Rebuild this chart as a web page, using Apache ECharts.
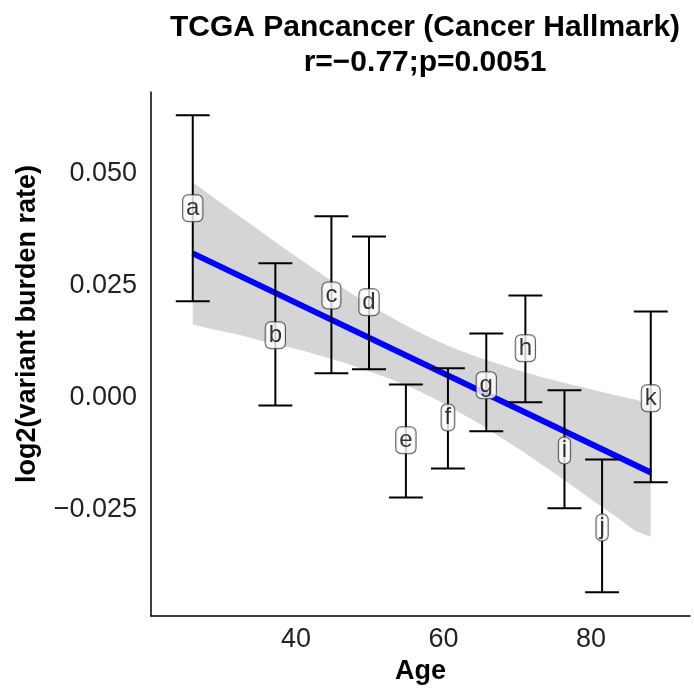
<!doctype html>
<html>
<head>
    <meta charset="utf-8">
    <title>TCGA Pancancer</title>
    <script src="https://cdn.jsdelivr.net/npm/echarts@6/dist/echarts.min.js"></script>
    <style>
        html, body { margin: 0; padding: 0; background: #fff; }
        #container { width: 694px; height: 691px; }
    </style>
</head>
<body>
    <div id="container"></div>
    <script type="text/javascript">
        // age groups (label, mean age, value, error bar)
        var labels = ['a', 'b', 'c', 'd', 'e', 'f', 'g', 'h', 'i', 'j', 'k'];
        var ages = [26.0, 37.2, 44.8, 49.9, 54.9, 60.6, 65.8, 71.1, 76.4, 81.5, 88.1];
        var rate = [0.0423, 0.0139, 0.0228, 0.0213, -0.0096, -0.0045, 0.0027, 0.0110, -0.0119, -0.0291, -0.0002];
        var upper = [0.0631, 0.0300, 0.0405, 0.0360, 0.0029, 0.0065, 0.0143, 0.0228, 0.0016, -0.0139, 0.0192];
        var lower = [0.0215, -0.0018, 0.0054, 0.0063, -0.0224, -0.0159, -0.0076, -0.0011, -0.0248, -0.0436, -0.0190];

        // fitted line and its confidence band
        var fitAge = [26.0, 88.1];
        var fitRate = [0.0322, -0.0168];
        var bandAge = [26.0, 29, 32, 35, 38, 41, 44, 47, 50, 53, 56, 59, 62, 65, 68, 71, 74, 77, 80, 83, 86, 88.1];
        var bandUpper = [0.0481, 0.0445, 0.0409, 0.0374, 0.0338, 0.0304, 0.0270, 0.0238, 0.0206, 0.0178, 0.0151,
            0.0127, 0.0106, 0.0088, 0.0072, 0.0056, 0.0042, 0.0030, 0.0018, 0.0006, -0.0005, -0.0016];
        var bandLower = [0.0163, 0.0151, 0.0141, 0.0128, 0.0116, 0.0104, 0.0090, 0.0075, 0.0058, 0.0040, 0.0019,
            -0.0005, -0.0032, -0.0060, -0.0092, -0.0124, -0.0158, -0.0192, -0.0228, -0.0262, -0.0299, -0.0312];

        var xTicks = [40, 60, 80];
        var yTicks = [-0.025, 0, 0.025, 0.05];

        var fontFam = '"Liberation Sans", Arial, sans-serif';
        var capHalf = 2.3; // error bar cap half width, in years

        var pointData = ages.map(function (a, i) { return [a, rate[i], lower[i], upper[i], labels[i]]; });
        var bandData = bandAge.map(function (a, i) { return [a, bandLower[i], bandUpper[i]]; });

        var option = {
            animation: false,
            backgroundColor: '#fff',
            title: {
                text: 'TCGA Pancancer (Cancer Hallmark)\nr=\u22120.77;p=0.0051',
                left: 420,
                top: 5,
                textAlign: 'center',
                textStyle: {
                    fontFamily: fontFam,
                    fontSize: 30,
                    fontWeight: 'bold',
                    lineHeight: 35,
                    color: '#000'
                }
            },
            grid: { left: 151, right: 4, top: 92, bottom: 75 },
            xAxis: {
                type: 'value',
                min: 20.34,
                max: 93.42,
                name: 'Age',
                nameLocation: 'middle',
                nameGap: 40,
                nameTextStyle: { fontFamily: fontFam, fontSize: 27, fontWeight: 'bold', color: '#000' },
                axisLine: { show: true, onZero: false, lineStyle: { color: '#000', width: 1.5 } },
                axisTick: { show: false },
                splitLine: { show: false },
                axisLabel: {
                    customValues: xTicks,
                    fontFamily: fontFam,
                    fontSize: 27,
                    color: '#222',
                    margin: 10
                }
            },
            yAxis: {
                type: 'value',
                min: -0.0489,
                max: 0.0683,
                axisLine: { show: true, onZero: false, lineStyle: { color: '#000', width: 1.5 } },
                axisTick: { show: false },
                splitLine: { show: false },
                axisLabel: {
                    customValues: yTicks,
                    fontFamily: fontFam,
                    fontSize: 27,
                    color: '#222',
                    margin: 14,
                    formatter: function (v) {
                        var s = Math.abs(v).toFixed(3);
                        return v < 0 ? '\u2212' + s : s;
                    }
                }
            },
            graphic: [{
                type: 'text',
                x: 28,
                y: 324,
                rotation: Math.PI / 2,
                style: {
                    text: 'log2(variant burden rate)',
                    fontFamily: fontFam,
                    fontSize: 27,
                    fontWeight: 'bold',
                    fill: '#000',
                    align: 'center',
                    verticalAlign: 'middle'
                }
            }],
            series: [{
                // confidence band
                type: 'custom',
                z: 1,
                data: bandData,
                renderItem: function (params, api) {
                    if (params.dataIndex !== 0) return null;
                    var pts = [];
                    for (var i = 0; i < bandData.length; i++) {
                        pts.push(api.coord([bandData[i][0], bandData[i][2]]));
                    }
                    for (var j = bandData.length - 1; j >= 0; j--) {
                        pts.push(api.coord([bandData[j][0], bandData[j][1]]));
                    }
                    return {
                        type: 'polygon',
                        shape: { points: pts },
                        style: { fill: '#d5d5d5' }
                    };
                }
            }, {
                // regression line
                type: 'line',
                z: 2,
                data: fitAge.map(function (a, i) { return [a, fitRate[i]]; }),
                symbol: 'none',
                lineStyle: { color: '#0000ff', width: 6 }
            }, {
                // error bars
                type: 'custom',
                z: 3,
                data: pointData,
                renderItem: function (params, api) {
                    var x = api.value(0);
                    var top = api.coord([x, api.value(3)]);
                    var bot = api.coord([x, api.value(2)]);
                    var hw = api.size([capHalf, 0])[0];
                    var st = { stroke: '#000', lineWidth: 2 };
                    return {
                        type: 'group',
                        children: [
                            { type: 'line', shape: { x1: top[0], y1: top[1], x2: bot[0], y2: bot[1] }, style: st },
                            { type: 'line', shape: { x1: top[0] - hw, y1: top[1], x2: top[0] + hw, y2: top[1] }, style: st },
                            { type: 'line', shape: { x1: bot[0] - hw, y1: bot[1], x2: bot[0] + hw, y2: bot[1] }, style: st }
                        ]
                    };
                }
            }, {
                // point labels
                type: 'scatter',
                z: 4,
                data: pointData,
                symbolSize: 0,
                label: {
                    show: true,
                    position: 'inside',
                    formatter: function (p) { return p.data[4]; },
                    fontFamily: fontFam,
                    fontSize: 24,
                    lineHeight: 24,
                    color: '#000',
                    backgroundColor: '#fff',
                    borderColor: '#333',
                    borderWidth: 1,
                    borderRadius: 5,
                    padding: [1, 3, 1, 3]
                }
            }]
        };

        var myChart = echarts.init(document.getElementById('container'));
        myChart.setOption(option);
    </script>
</body>
</html>
